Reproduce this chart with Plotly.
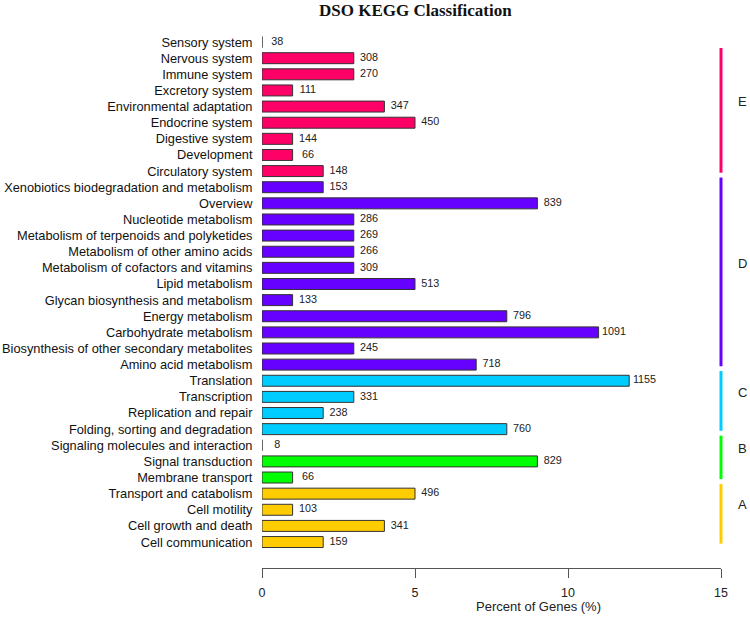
import plotly.graph_objects as go

categories = [
    "Sensory system", "Nervous system", "Immune system", "Excretory system",
    "Environmental adaptation", "Endocrine system", "Digestive system", "Development",
    "Circulatory system",
    "Xenobiotics biodegradation and metabolism", "Overview", "Nucleotide metabolism",
    "Metabolism of terpenoids and polyketides", "Metabolism of other amino acids",
    "Metabolism of cofactors and vitamins", "Lipid metabolism",
    "Glycan biosynthesis and metabolism", "Energy metabolism", "Carbohydrate metabolism",
    "Biosynthesis of other secondary metabolites", "Amino acid metabolism",
    "Translation", "Transcription", "Replication and repair",
    "Folding, sorting and degradation",
    "Signaling molecules and interaction", "Signal transduction", "Membrane transport",
    "Transport and catabolism", "Cell motility", "Cell growth and death",
    "Cell communication",
]
gene_counts = [38, 308, 270, 111, 347, 450, 144, 66, 148,
               153, 839, 286, 269, 266, 309, 513, 133, 796, 1091, 245, 718,
               1155, 331, 238, 760,
               8, 829, 66,
               496, 103, 341, 159]
percent = [0, 3, 3, 1, 4, 5, 1, 1, 2,
           2, 9, 3, 3, 3, 3, 5, 1, 8, 11, 3, 7,
           12, 3, 2, 8,
           0, 9, 1,
           5, 1, 4, 2]
groups = ["E"] * 9 + ["D"] * 12 + ["C"] * 4 + ["B"] * 3 + ["A"] * 4
group_names = ["E", "D", "C", "B", "A"]
group_colors = {"E": "#FF0066", "D": "#6600FF", "C": "#00CCFF", "B": "#00FF00", "A": "#FFCC00"}
x_ticks = [0, 5, 10, 15]

bar_colors = [group_colors[g] for g in groups]
idx = list(range(len(categories)))

fig = go.Figure()
fig.add_trace(go.Bar(
    y=idx, x=percent, orientation="h",
    marker=dict(color=bar_colors, line=dict(color="#333333", width=1)),
    width=0.68, hoverinfo="skip", showlegend=False,
))
fig.add_trace(go.Scatter(
    y=idx, x=[p + 0.5 for p in percent], mode="text",
    text=[str(c) for c in gene_counts], textposition="middle center",
    textfont=dict(family="Liberation Sans, Arial", size=10.8, color="#222222"),
    hoverinfo="skip", showlegend=False, cliponaxis=False,
))

shapes = []
annotations = []
for g in group_names:
    members = [i for i, gg in enumerate(groups) if gg == g]
    y0 = max(members[0] - 0.6, 0.37)
    y1 = members[-1] + 0.1
    shapes.append(dict(type="line", xref="paper", yref="y", x0=1.0, x1=1.0, y0=y0, y1=y1,
                       line=dict(color=group_colors[g], width=3)))
    annotations.append(dict(xref="paper", yref="y", x=1.0458, y=(y0 + y1) / 2 - 0.55,
                            text=g, showarrow=False, xanchor="center", yanchor="middle",
                            font=dict(family="Liberation Sans, Arial", size=13, color="#222222")))

annotations.append(dict(xref="paper", yref="paper", x=0.3355, y=1.0, yshift=24,
                        text="<b>DSO KEGG Classification</b>", showarrow=False,
                        xanchor="center", yanchor="middle",
                        font=dict(family="Liberation Serif, Times New Roman", size=17, color="#111111")))
annotations.append(dict(xref="x", yref="paper", x=9.02, y=-0.073,
                        text="Percent of Genes (%)", showarrow=False,
                        xanchor="center", yanchor="middle",
                        font=dict(family="Liberation Sans, Arial", size=13, color="#222222")))

fig.update_layout(
    width=750, height=617,
    margin=dict(l=262, r=29, t=34, b=49),
    plot_bgcolor="white", paper_bgcolor="white",
    bargap=0.32,
    shapes=shapes, annotations=annotations,
    xaxis=dict(range=[0, 15], tickvals=x_ticks, showgrid=False, zeroline=False,
               showline=True, linecolor="#555555", linewidth=1,
               ticks="outside", ticklen=9, tickcolor="#555555", tickwidth=1,
               ticklabelstandoff=4, automargin=False,
               tickfont=dict(family="Liberation Sans, Arial", size=12.5, color="#222222")),
    yaxis=dict(range=[32.61, -0.5], tickvals=idx, ticktext=categories,
               showgrid=False, zeroline=False, showline=False, automargin=False,
               ticks="outside", ticklen=6, tickcolor="rgba(0,0,0,0)",
               tickfont=dict(family="Liberation Sans, Arial", size=12.8, color="#111111")),
)

fig.write_html("out.html", config={"displayModeBar": False},
               post_script="document.body.style.margin='0';")
